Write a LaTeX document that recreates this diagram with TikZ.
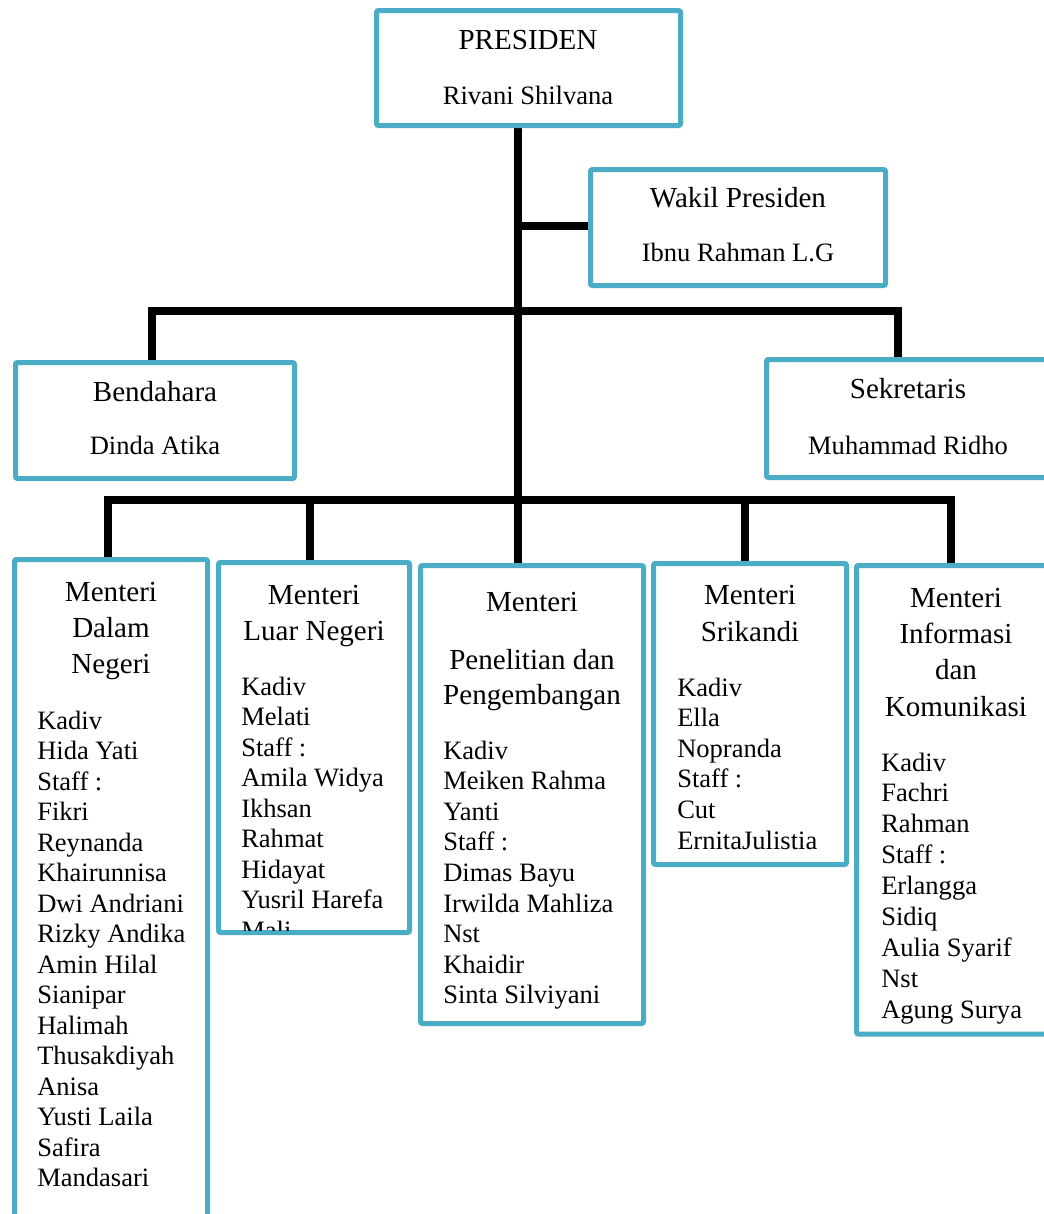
\documentclass[tikz,border=0pt]{standalone}
\usepackage{fontspec}
\setmainfont{Liberation Serif}
\usetikzlibrary{fit,backgrounds}
\definecolor{boxblue}{RGB}{75,172,198}
\begin{document}
\begin{tikzpicture}[x=0.75pt,y=-0.75pt,
  orgbox/.style={draw=boxblue, line width=3.75pt, fill=white, rounded corners=1.5pt, inner sep=0pt},
  conn/.style={draw=black, line width=6pt},
  ttl/.style={font=\fontsize{21.8}{26}\selectfont, anchor=base, inner sep=0pt},
  nm/.style={font=\fontsize{19.9}{23}\selectfont, anchor=base, inner sep=0pt},
  itm/.style={font=\fontsize{19.9}{23}\selectfont, anchor=base west, inner sep=0pt}]
\path[use as bounding box, clip] (0,0) rectangle (1044,1214);

% boxes
\node[orgbox, fit={(376.5,10.5)(680.5,125.5)}] (pres) {};
\node[orgbox, fit={(590.5,169.5)(885.5,285.5)}] (wakil) {};
\node[orgbox, fit={(15.5,362.5)(294.5,478.5)}] (bend) {};
\node[orgbox, fit={(766.5,359.5)(1056,477.5)}] (sek) {};
\node[orgbox, fit={(14.5,559.5)(207.5,1240)}] (m1) {};
\node[orgbox, fit={(218.5,562.5)(409.5,932.5)}] (m2) {};
\node[orgbox, fit={(420.5,565.5)(643.5,1023.5)}] (m3) {};
\node[orgbox, fit={(653.5,563.5)(846.5,864.5)}] (m4) {};
\node[orgbox, fit={(856.5,565.5)(1056,1034)}] (m5) {};

% junction coordinates
\coordinate (tx) at (518,0);
\coordinate (jw) at (518,226);
\coordinate (jb) at (152,311);
\coordinate (js) at (898,311);
\coordinate (l1) at (108,500);
\coordinate (l2) at (310,500);
\coordinate (l4) at (745,500);
\coordinate (l5) at (951,500);

\begin{scope}[on background layer]
  \fill[white] (0,0) rectangle (1044,1214);
  \draw[conn] (pres.south -| tx) -- (m3.north -| tx);
  \draw[conn] (jw) -- (jw -| wakil.west);
  \draw[conn] (bend.north -| jb) -- (jb) -- (js) -- (sek.north -| js);
  \draw[conn] (m1.north -| l1) -- (l1) -- (l5) -- (m5.north -| l5);
  \draw[conn] (l2) -- (m2.north -| l2);
  \draw[conn] (l4) -- (m4.north -| l4);
\end{scope}

% top texts
\node[ttl] (presT) at (528,49.5) {PRESIDEN};
\node[nm] (presN) at (528,104) {Rivani Shilvana};
\node[ttl] (wakT) at (738,207) {Wakil Presiden};
\node[nm] (wakN) at (738,261) {Ibnu Rahman L.G};
\node[ttl] (benT) at (155,401) {Bendahara};
\node[nm] (benN) at (155,454) {Dinda Atika};
\node[ttl] (sekT) at (908,398) {Sekretaris};
\node[nm] (sekN) at (908,454) {Muhammad Ridho};

% minister 1
\node[ttl] (m1a) at (111,601) {Menteri};
\node[ttl] (m1b) at (111,637) {Dalam};
\node[ttl] (m1c) at (111,673) {Negeri};
\foreach \t [count=\i] in {Kadiv,Hida Yati,Staff :,Fikri,Reynanda,Khairunnisa,Dwi Andriani,Rizky Andika,Amin Hilal,Sianipar,Halimah,Thusakdiyah,Anisa,Yusti Laila,Safira,Mandasari}
  \node[itm] (m1t\i) at (37,{729+(\i-1)*30.5}) {\t};

% minister 2
\node[ttl] (m2a) at (314,604) {Menteri};
\node[ttl] (m2b) at (314,640) {Luar Negeri};
\begin{scope}
  \clip (221,565) rectangle (407,930.5);
  \foreach \t [count=\i] in {Kadiv,Melati,Staff :,Amila Widya,Ikhsan,Rahmat,Hidayat,Yusril Harefa,Mali}
    \node[itm] (m2t\i) at (241,{695+(\i-1)*30.5}) {\t};
\end{scope}

% minister 3
\node[ttl] (m3a) at (532,611) {Menteri};
\node[ttl] (m3b) at (532,669) {Penelitian dan};
\node[ttl] (m3c) at (532,704) {Pengembangan};
\foreach \t [count=\i] in {Kadiv,Meiken Rahma,Yanti,Staff :,Dimas Bayu,Irwilda Mahliza,Nst,Khaidir,Sinta Silviyani}
  \node[itm] (m3t\i) at (443,{759+(\i-1)*30.6}) {\t};

% minister 4
\node[ttl] (m4a) at (750,604) {Menteri};
\node[ttl] (m4b) at (750,641) {Srikandi};
\foreach \t [count=\i] in {Kadiv,Ella,Nopranda,Staff :,Cut,ErnitaJulistia}
  \node[itm] (m4t\i) at (677,{696+(\i-1)*30.6}) {\t};

% minister 5
\node[ttl] (m5a) at (956,607) {Menteri};
\node[ttl] (m5b) at (956,643) {Informasi};
\node[ttl] (m5c) at (956,679) {dan};
\node[ttl] (m5d) at (956,716) {Komunikasi};
\foreach \t [count=\i] in {Kadiv,Fachri,Rahman,Staff :,Erlangga,Sidiq,Aulia Syarif,Nst,Agung Surya}
  \node[itm] (m5t\i) at (881,{771+(\i-1)*30.9}) {\t};
\end{tikzpicture}
\end{document}
